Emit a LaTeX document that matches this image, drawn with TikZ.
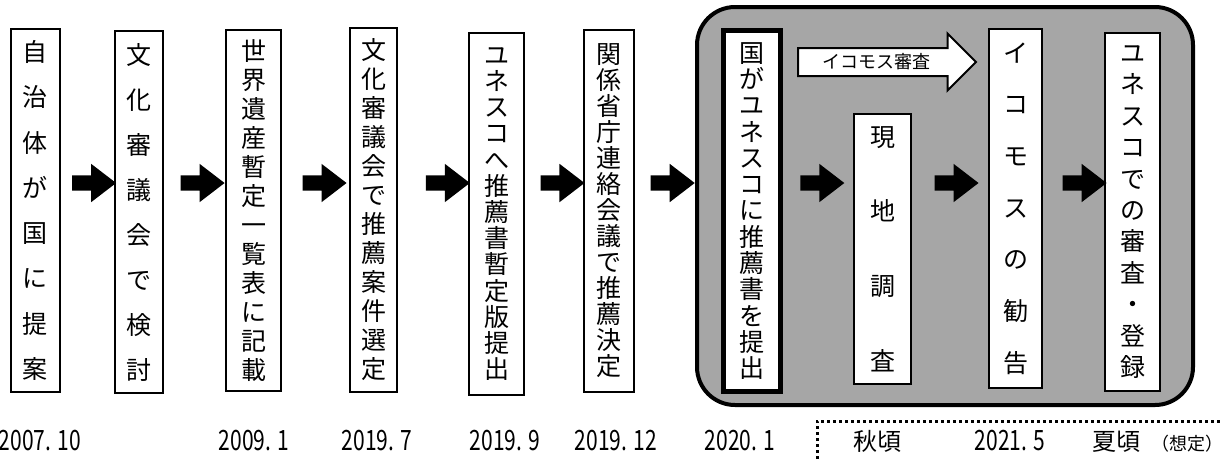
\documentclass[tikz,border=0pt]{standalone}
\usepackage{fontspec}
\setmainfont{Noto Sans CJK JP}
\newfontfamily\datefont[FakeStretch=0.75]{Noto Sans CJK JP}
\usetikzlibrary{shapes.arrows}
\definecolor{phasegray}{HTML}{A6A6A6}

\begin{document}
\begin{tikzpicture}[x=1pt, y=-1pt,
    step box/.style={draw, fill=white, line width=2pt, align=center, inner sep=0pt,
                     font=\fontsize{25}{#1}\selectfont},
    block arrow/.style={single arrow, fill=black, inner sep=7.5pt, outer sep=0pt,
                        minimum height=44pt, single arrow head extend=11.5pt,
                        single arrow tip angle=75},
    review arrow/.style={single arrow, draw, fill=white, line width=2pt,
                         inner sep=13pt, minimum height=178pt,
                         single arrow head extend=14.5pt},
    date label/.style={anchor=base, font=\datefont\fontsize{28}{28}\selectfont},
    season label/.style={anchor=base, font=\fontsize{24}{24}\selectfont}]

  \useasboundingbox (0,0) rectangle (1223,459);

  % phase after submission
  \draw[line width=4pt, fill=phasegray, rounded corners=38pt] (697,7) rectangle (1193,405);

  \node[step box=45.3, minimum width=49pt, minimum height=363pt] (b1) at (35.5,210.5)
    {自\\治\\体\\が\\国\\に\\提\\案};
  \node[step box=45, minimum width=48pt, minimum height=362pt] (b2) at (139,212)
    {文\\化\\審\\議\\会\\で\\検\\討};
  \node[step box=29, minimum width=55pt, minimum height=361pt] (b3) at (253.5,210.5)
    {世\\界\\遺\\産\\暫\\定\\一\\覧\\表\\に\\記\\載};
  \node[step box=29, minimum width=47pt, minimum height=364pt] (b4) at (373.5,210)
    {文\\化\\審\\議\\会\\で\\推\\薦\\案\\件\\選\\定};
  \node[step box=26.2, minimum width=55pt, minimum height=362pt] (b5) at (496.5,214)
    {ユ\\ネ\\ス\\コ\\へ\\推\\薦\\書\\暫\\定\\版\\提\\出};
  \node[step box=26, minimum width=50pt, minimum height=362pt] (b6) at (609,211)
    {関\\係\\省\\庁\\連\\絡\\会\\議\\で\\推\\薦\\決\\定};
  \node[step box=26.3, line width=5pt, minimum width=57pt, minimum height=361pt] (b7) at (752,211)
    {国\\が\\ユ\\ネ\\ス\\コ\\に\\推\\薦\\書\\を\\提\\出};
  \node[step box=74.7, minimum width=57pt, minimum height=270pt] (b8) at (882.5,249)
    {現\\地\\調\\査};
  \node[step box=51.7, minimum width=53pt, minimum height=359pt] (b9) at (1015.5,208.5)
    {イ\\コ\\モ\\ス\\の\\勧\\告};
  \node[step box=31.4, minimum width=55pt, minimum height=358pt] (b10) at (1132.5,212)
    {ユ\\ネ\\ス\\コ\\で\\の\\審\\査\\・\\登\\録};

  % arrows between the steps
  \foreach \from/\to/\p in {b1/b2/.53, b2/b3/.55, b3/b4/.56, b4/b5/.64, b5/b6/.56,
                            b6/b7/.38, b7/b8/.49, b8/b9/.52, b9/b10/.6}
    \path (\from.east |- 0,183) -- node[block arrow, pos=\p] {} (\to.west |- 0,183);

  \node[review arrow, anchor=tail] (review) at ([xshift=14pt]b7.east |- 0,62) {};
  \node[font=\fontsize{18}{18}\selectfont] (reviewtext) at ([xshift=79pt]review.tail) {イコモス審査};

  % dates
  \node[date label] (d1) at (40,450) {2007. 10};
  \node[date label] (d3) at (254,450) {2009. 1};
  \node[date label] (d4) at (377,450) {2019. 7};
  \node[date label] (d5) at (505,450) {2019. 9};
  \node[date label] (d6) at (616,450) {2019. 12};
  \node[date label] (d7) at (740,450) {2020. 1};
  \node[season label] (d8) at (877,450) {秋頃};
  \node[date label] (d9) at (1010,450) {2021. 5};
  \node[season label] (d10) at (1116,450) {夏頃};
  \node[anchor=base, font=\fontsize{18}{18}\selectfont] (note) at (1187,450) {（想定）};

  \draw[line width=3pt, dash pattern=on 3pt off 3pt] (817,459) -- (817,421) -- (1223,421);
\end{tikzpicture}
\end{document}
